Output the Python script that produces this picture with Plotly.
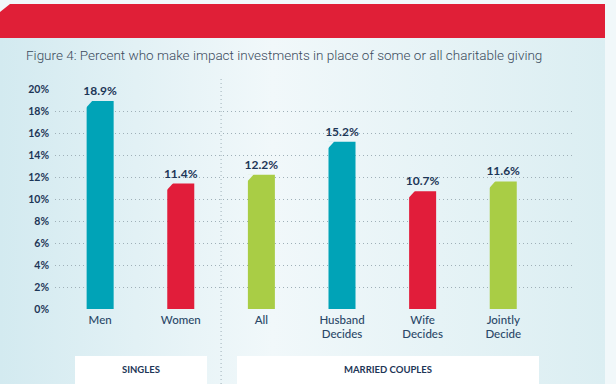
import base64
import plotly.graph_objects as go

# ---- data ----
categories = ["Men", "Women", "All", "Husband<br>Decides", "Wife<br>Decides", "Jointly<br>Decide"]
values = [18.9, 11.4, 12.2, 15.2, 10.7, 11.6]
value_labels = ["18.9%", "11.4%", "12.2%", "15.2%", "10.7%", "11.6%"]
bar_groups = ["teal", "red", "green", "teal", "red", "green"]
y_ticks = [0, 2, 4, 6, 8, 10, 12, 14, 16, 18, 20]
y_tick_labels = ["0%", "2%", "4%", "6%", "8%", "10%", "12%", "14%", "16%", "18%", "20%"]
group_labels = ["SINGLES", "MARRIED COUPLES"]
title_text = "Figure 4: Percent who make impact investments in place of some or all charitable giving"

# ---- style ----
W, H = 616, 384
L, R, T, B = 55, 41, 89, 75
PW, PH = W - L - R, H - T - B
XR = [-0.56, 5.89]
YR = [0, 20]
palette = {"teal": "#00a3b7", "red": "#e11d3a", "green": "#a9cd45"}
NAVY = "#1d3657"
BAR_W = 0.335

def px2x(px):
    return (px - L) / PW

def py2y(py):
    return (H - B - py) / PH

grad_stops = [(0.0, (0xd3, 0xea, 0xf0)), (0.45, (0xf1, 0xf8, 0xfa)), (1.0, (0xdb, 0xee, 0xf2))]

def grad_color(px):
    t = max(0.0, min(1.0, px / 605))
    for (t0, c0), (t1, c1) in zip(grad_stops, grad_stops[1:]):
        if t0 <= t <= t1:
            f = (t - t0) / (t1 - t0)
            c = [round(a + (b - a) * f) for a, b in zip(c0, c1)]
            return "rgb(%d,%d,%d)" % tuple(c)
    return "rgb(240,248,250)"

stops_svg = "".join(
    '<stop offset="%g" stop-color="rgb(%d,%d,%d)"/>' % (t, *c) for t, c in grad_stops
)
svg = ('<svg xmlns="http://www.w3.org/2000/svg" width="605" height="346" preserveAspectRatio="none">'
       '<defs><linearGradient id="g" x1="0" x2="1" y1="0" y2="0">' + stops_svg +
       '</linearGradient></defs><rect width="605" height="346" fill="url(#g)"/></svg>')
svg_uri = "data:image/svg+xml;base64," + base64.b64encode(svg.encode()).decode()

xs = list(range(len(categories)))

fig = go.Figure()
fig.add_trace(go.Bar(
    x=xs, y=values, width=BAR_W,
    marker=dict(color=[palette[g] for g in bar_groups], line=dict(width=0)),
    text=value_labels, textposition="outside", cliponaxis=False, constraintext="none",
    textfont=dict(family="Lato", size=12, color=NAVY, weight="bold"),
    hoverinfo="skip",
))

shapes = []
# red banner
pts = [(0, 12), (10, 4), (605, 4), (605, 38), (0, 38)]
path = "M " + " L ".join("%f,%f" % (px2x(a), py2y(b)) for a, b in pts) + " Z"
shapes.append(dict(type="path", path=path, xref="paper", yref="paper",
                   fillcolor="#e01f37", line=dict(width=0), layer="below"))

# chamfered top-left corners of bars (computed from data)
xu = PW / (XR[1] - XR[0])
yu = PH / (YR[1] - YR[0])
cx, cy = 6 / xu, 7 / yu
for x, v in zip(xs, values):
    x0 = x - BAR_W / 2
    left_px = L + (x0 - XR[0]) * xu
    shapes.append(dict(type="path", xref="x", yref="y",
                       path="M %f,%f L %f,%f L %f,%f Z" % (x0 - 0.01, v + 0.05, x0 + cx, v + 0.05, x0 - 0.01, v - cy),
                       fillcolor=grad_color(left_px), line=dict(width=0), layer="above"))

# divider between groups
shapes.append(dict(type="line", xref="x", yref="paper", x0=1.5, x1=1.5,
                   y0=py2y(384), y1=py2y(78), line=dict(color="#9fb0b8", width=1, dash="1px,3px"),
                   layer="below"))
# group boxes
boxes = [(75, 207), (237, 539)]
for (a, b) in boxes:
    shapes.append(dict(type="rect", xref="paper", yref="paper",
                       x0=px2x(a), x1=px2x(b), y0=py2y(384), y1=py2y(356),
                       fillcolor="white", line=dict(width=0), layer="below"))

annotations = [dict(text=title_text, xref="paper", yref="paper", x=px2x(24), y=py2y(55),
                    xanchor="left", yanchor="middle", showarrow=False,
                    font=dict(family="Roboto", size=13.5, color="#3a4a5c", weight=300))]
for (a, b), lab in zip(boxes, group_labels):
    annotations.append(dict(text="<b>%s</b>" % lab, xref="paper", yref="paper",
                            x=px2x((a + b) / 2), y=py2y(369), xanchor="center", yanchor="middle",
                            showarrow=False, font=dict(family="Lato", size=9.5, color=NAVY)))

fig.update_layout(
    width=W, height=H, margin=dict(l=L, r=R, t=T, b=B, autoexpand=False),
    paper_bgcolor="#f1f8fa", plot_bgcolor="rgba(0,0,0,0)",
    showlegend=False, shapes=shapes, annotations=annotations,
    images=[dict(source=svg_uri, xref="paper", yref="paper", x=px2x(0), y=py2y(38),
                 sizex=605 / PW, sizey=346 / PH, sizing="stretch",
                 xanchor="left", yanchor="top", layer="below")],
    xaxis=dict(range=XR, tickvals=xs, ticktext=categories, showgrid=False, zeroline=False,
               showline=False, ticks="", ticklabelstandoff=2,
               tickfont=dict(family="Lato", size=11.5, color="#2b4868", weight=500)),
    yaxis=dict(range=YR, tickvals=y_ticks, ticktext=y_tick_labels, showgrid=True,
               gridcolor="#9fb0b8", griddash="1px,3px", gridwidth=1, zeroline=False,
               showline=False, ticks="", ticklabelstandoff=5,
               tickfont=dict(family="Lato", size=10.5, color=NAVY, weight="bold")),
    bargap=0.5,
)

fig.write_html("out.html", config={"displayModeBar": False},
               post_script="document.body.style.margin='0';document.body.style.overflow='hidden';")
